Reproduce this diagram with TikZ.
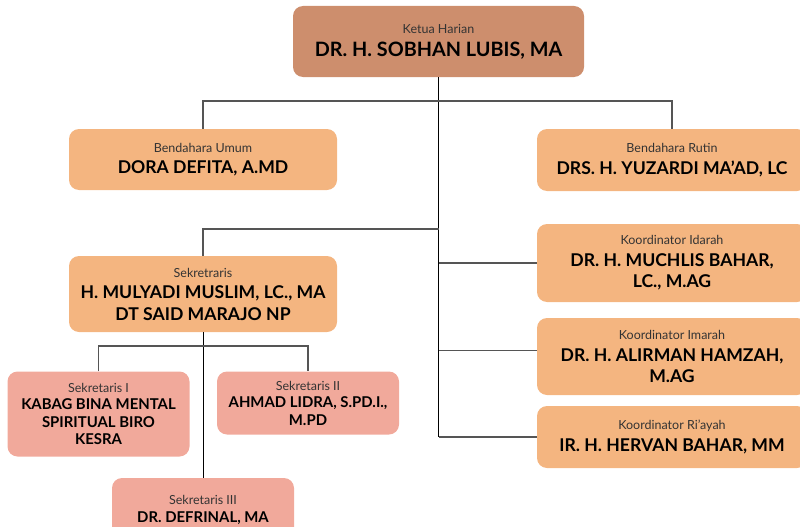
\documentclass[tikz,border=0pt]{standalone}
\usepackage{fontspec}
\setmainfont{Lato}
\usepackage{tikz}
\definecolor{ketuabg}{HTML}{CD8E6D}
\definecolor{bidangbg}{HTML}{F4B580}
\definecolor{sekbg}{HTML}{F1A99B}
\definecolor{garis}{HTML}{555555}
\definecolor{jabtext}{HTML}{333333}
\newcommand{\jab}[1]{{\fontsize{12.5}{14}\selectfont\mdseries\color{jabtext}#1}}

\begin{document}
\begin{tikzpicture} [
    x=1pt, y=-1pt,
    kotak/.style = {rectangle, rounded corners=10pt, align=center, inner sep=0pt,
        font=\bfseries\fontsize{17.6}{21.5}\selectfont},
    bidang/.style = {kotak, fill=bidangbg, minimum width=270pt},
    sekre/.style = {kotak, fill=sekbg, minimum width=182pt,
        font=\bfseries\fontsize{14.9}{17.5}\selectfont},
    cabang/.style = {draw=garis, line width=1.1pt},
    batang/.style = {draw=black, line width=0.9pt}
]
    \clip (0,0) rectangle (800,527);
    \useasboundingbox (0,0) rectangle (800,527);

    \node (ketua) [kotak, fill=ketuabg, minimum width=291pt, minimum height=71pt,
        font=\bfseries\fontsize{19.8}{23}\selectfont] at (438.5,41.5)
        {\jab{Ketua Harian}\\DR. H. SOBHAN LUBIS, MA};

    \node (bumum) [bidang, minimum width=268pt, minimum height=61pt] at (203,159.5)
        {\jab{Bendahara Umum}\\DORA DEFITA, A.MD};
    \node (brutin) [bidang, minimum height=62pt] at (672,160)
        {\jab{Bendahara Rutin}\\DRS. H. YUZARDI MA'AD, LC};

    \node (sekretaris) [bidang, minimum width=268pt, minimum height=76pt] at (203,294)
        {\jab{Sekretraris}\\H. MULYADI MUSLIM, LC., MA\\DT SAID MARAJO NP};

    \node (idarah) [bidang, minimum height=78pt] at (672,263)
        {\jab{Koordinator Idarah}\\DR. H. MUCHLIS BAHAR,\\LC., M.AG};
    \node (imarah) [bidang, minimum height=77pt] at (672,356.5)
        {\jab{Koordinator Imarah}\\DR. H. ALIRMAN HAMZAH,\\M.AG};
    \node (riayah) [bidang, minimum height=62pt] at (672,437)
        {\jab{Koordinator Ri'ayah}\\IR. H. HERVAN BAHAR, MM};

    \node (sek1) [sekre, minimum height=85pt] at (98.5,414)
        {\jab{Sekretaris I}\\KABAG BINA MENTAL\\SPIRITUAL BIRO\\KESRA};
    \node (sek2) [sekre, minimum height=63pt] at (308,403)
        {\jab{Sekretaris II}\\AHMAD LIDRA, S.PD.I.,\\M.PD};
    \node (sek3) [sekre, minimum height=64pt] at (203,510)
        {\jab{Sekretaris III}\\DR. DEFRINAL, MA};

    \coordinate (atas) at (438.5,101);
    \coordinate (tengah) at (438.5,229);
    \coordinate (bawah) at (203,346);

    \draw[batang] (ketua.south) -- (ketua.south |- riayah.west);
    \draw[cabang] (bumum.north) |- (atas) -| (brutin.north);
    \draw[cabang] (sekretaris.north) |- (tengah);
    \draw[cabang] (tengah |- idarah.west) -- (idarah.west);
    \draw[cabang] ([yshift=6pt]imarah.west -| tengah) -- ([yshift=6pt]imarah.west);
    \draw[cabang] (tengah |- riayah.west) -- (riayah.west);

    \draw[batang] (sekretaris.south) -- (sek3.north);
    \draw[cabang] (sek1.north) |- (bawah) -| (sek2.north);
\end{tikzpicture}
\end{document}
